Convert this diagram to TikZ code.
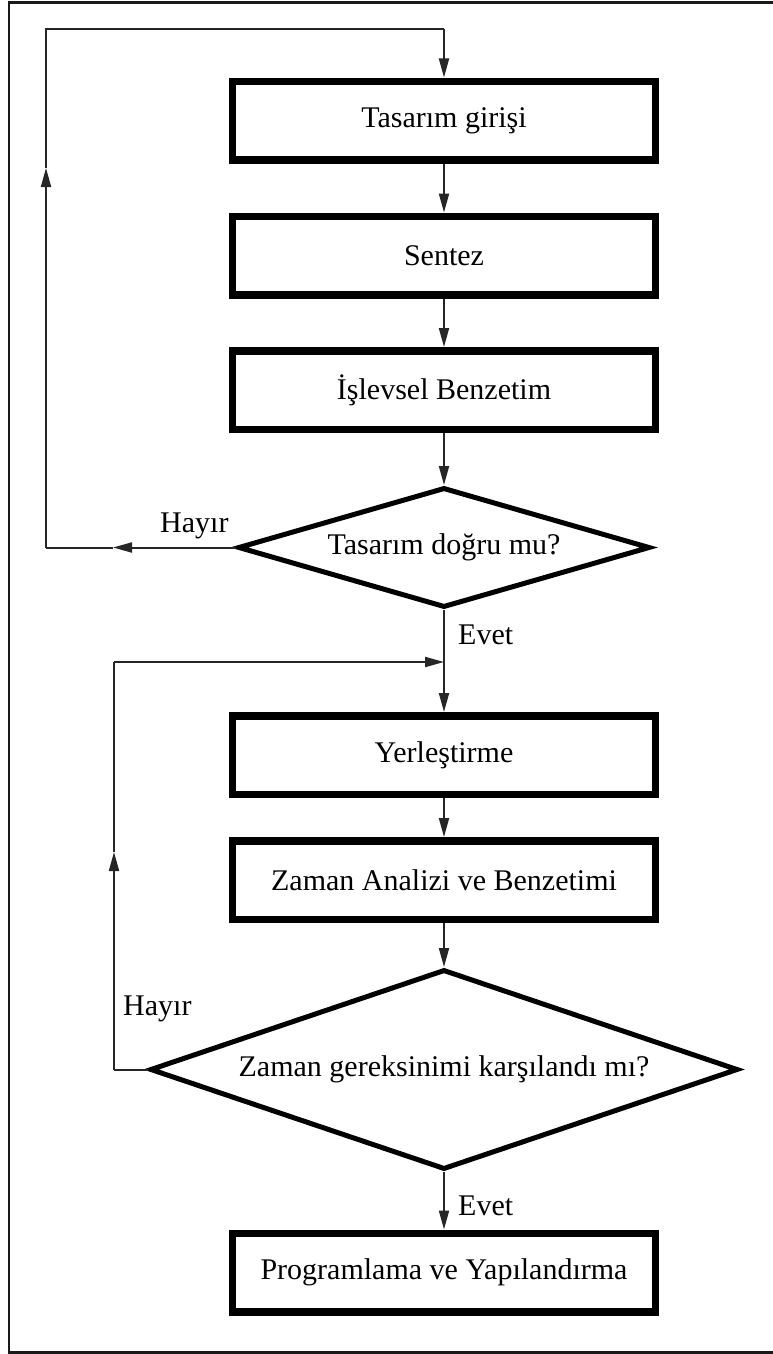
\documentclass[tikz,border=0pt]{standalone}
\usepackage{fontspec}
\setmainfont{Liberation Serif}
\usetikzlibrary{arrows.meta,shapes.geometric}
\begin{document}
\begin{tikzpicture}[x=1pt,y=-1pt,
  font=\fontsize{30}{36}\selectfont,
  stepbox/.style={draw=black, line width=7.5pt, minimum width=423pt,
    minimum height=78.5pt, inner sep=0pt},
  decision/.style={draw=black, shape=diamond, line width=5pt, inner sep=0pt,
    line join=miter},
  conn/.style={draw=black!85, line width=2pt},
  arr/.style={-{Triangle[length=19pt,width=10pt]}, draw=black!85},
  lbl/.style={anchor=base west, inner sep=0pt}
]
\useasboundingbox (0,0) rectangle (773,1354);

% outer frame
\draw[line width=2.2pt, black!90] (775,2.5) -- (9,2.5) -- (9,1352.5) -- (775,1352.5);

% process boxes
\node[stepbox] (b1) at (444,120.5) {Tasarım girişi};
\node[stepbox] (b2) at (444,255.5) {Sentez};
\node[stepbox] (b3) at (444,390)   {İşlevsel Benzetim};
\node[stepbox] (b4) at (444,755)   {Yerleştirme};
\node[stepbox] (b5) at (444,880)   {Zaman Analizi ve Benzetimi};
\node[stepbox] (b6) at (444,1272.5){Programlama ve Yapılandırma};

% decisions
\node[decision, minimum width=412pt, minimum height=120pt] (d1) at (444,547.5) {};
\node (d1t) at (d1.center) {Tasarım doğru mu?};
\node[decision, minimum width=588pt, minimum height=200pt] (d2) at (444,1069.5) {};
\node (d2t) at (d2.center) {Zaman gereksinimi karşılandı mı?};

% main flow
\draw[conn,arr] (b1.south) -- (b2.north);
\draw[conn,arr] (b2.south) -- (b3.north);
\draw[conn,arr] (b3.south) -- (d1.north);
\draw[conn,arr] (d1.south) -- (b4.north);
\draw[conn,arr] (b4.south) -- (b5.north);
\draw[conn,arr] (b5.south) -- (d2.north);
\draw[conn,arr] (d2.south) -- (b6.north);

% first feedback loop
\coordinate (h1tip) at (113,547.5);
\coordinate (c1a)   at (46,547.5);
\coordinate (c1up)  at (46,168);
\coordinate (c1b)   at (46,29);
\coordinate (c1c)   at (444,29);
\draw[conn,arr] (d1.west) -- (h1tip);
\draw[conn] (h1tip) -- (c1a);
\draw[conn,arr] (c1a) -- (c1up);
\draw[conn] (c1up) -- (c1b) -- (c1c);
\draw[conn,arr] (c1c) -- (b1.north);

% second feedback loop
\coordinate (l2a)   at (114,1069.5);
\coordinate (l2tip) at (114,852);
\coordinate (l2b)   at (114,662);
\coordinate (l2c)   at (444,662);
\draw[conn] (d2.west) -- (l2a);
\draw[conn,arr] (l2a) -- (l2tip);
\draw[conn] (l2tip) -- (l2b);
\draw[conn,arr] (l2b) -- (l2c);

% branch labels
\node[lbl] (hay1) at (160,532)  {Hayır};
\node[lbl] (evt1) at (458,644)  {Evet};
\node[lbl] (hay2) at (123,1015) {Hayır};
\node[lbl] (evt2) at (458,1215) {Evet};
\end{tikzpicture}
\end{document}
